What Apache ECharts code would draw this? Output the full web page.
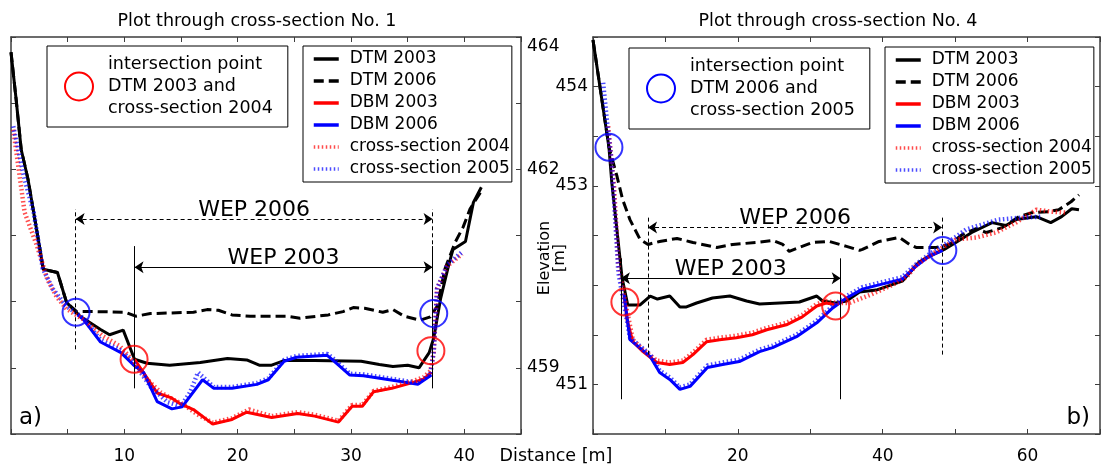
<!DOCTYPE html>
<html>
<head>
<meta charset="utf-8">
<script src="https://cdn.jsdelivr.net/npm/echarts@6/dist/echarts.min.js"></script>
<style>
html,body{margin:0;padding:0;background:#fff;}
#c{width:1103px;height:467px;}
</style>
</head>
<body>
<div id="c"></div>
<script>
// ---------- tick labels ----------
const L_xTickLabels = [10, 20, 30, 40];
const L_yTickLabels = [464, 462, 459];
const R_xTickLabels = [20, 40, 60];
const R_yTickLabels = [454, 453, 451];

// ---------- left panel: cross-section No. 1 ----------
const L_DTM2003 = [[0,463.77],[0.45,463.06],[0.9,462.3],[1.5,461.85],[2.3,461.05],[2.85,460.49],[4.1,460.44],[4.9,459.99],[6.1,459.78],[7.9,459.58],[8.7,459.5],[9.9,459.57],[10.9,459.13],[12.0,459.07],[14.0,459.04],[16.7,459.08],[19.1,459.14],[20.8,459.12],[21.9,459.04],[23.0,459.04],[24.1,459.11],[26.8,459.11],[30.9,459.1],[32.5,459.05],[33.7,459.02],[35.0,459.04],[36.0,459.0],[36.9,459.23],[37.3,459.45],[37.9,460.04],[38.6,460.54],[39.0,460.79],[40.1,460.91],[40.8,461.5],[41.5,461.73]];
const L_DTM2006 = [[0,463.77],[0.45,463.06],[0.9,462.3],[1.5,461.85],[2.3,461.05],[2.85,460.49],[4.1,460.44],[4.9,459.99],[5.8,459.85],[7.5,459.85],[10.1,459.84],[11.0,459.78],[12.3,459.82],[16.1,459.84],[17.3,459.88],[18.3,459.87],[19.5,459.8],[21.1,459.78],[24.3,459.78],[25.5,459.75],[28.0,459.8],[29.3,459.85],[30.2,459.91],[31.2,459.9],[32.8,459.84],[33.7,459.88],[34.7,459.78],[36.1,459.72],[37.0,459.77],[37.6,459.93],[38.3,460.5],[39.2,460.9],[39.9,461.13],[40.5,461.4],[41.6,461.7]];
const L_DBM2003 = [[10.9,459.13],[12.0,458.85],[12.9,458.62],[14.1,458.55],[14.9,458.46],[16.1,458.37],[17.8,458.15],[19.5,458.22],[20.8,458.33],[23.0,458.25],[25.3,458.31],[26.8,458.27],[28.9,458.18],[30.1,458.42],[31.0,458.42],[32.0,458.64],[33.6,458.69],[35.5,458.78],[36.4,458.83],[37.1,458.93]];
const L_DBM2006 = [[5.9,459.8],[6.4,459.73],[7.9,459.39],[9.7,459.23],[10.9,459.03],[11.7,458.93],[12.9,458.49],[14.2,458.38],[15.1,458.41],[16.9,458.82],[17.9,458.69],[19.5,458.69],[21.7,458.75],[22.7,458.82],[24.1,459.1],[25.2,459.16],[27.9,459.19],[28.3,459.13],[29.9,458.89],[31.1,458.88],[34.1,458.8],[35.9,458.75],[37.1,458.89]];
const L_CS2004 = [[0.2,462.6],[1.2,461.35],[2.3,460.84],[3.2,460.34],[4.0,460.08],[4.9,459.89],[6.4,459.73],[8.1,459.48],[9.6,459.33],[10.8,459.1],[12.0,458.83],[13.2,458.63],[14.3,458.52],[15.2,458.45],[16.4,458.3],[17.8,458.17],[19.5,458.24],[21.0,458.37],[23.0,458.27],[25.3,458.33],[26.8,458.29],[28.9,458.2],[30.1,458.44],[31.0,458.44],[32.0,458.65],[33.6,458.71],[35.5,458.8],[36.4,458.86],[37.0,458.95],[37.3,459.23],[37.6,460.2],[38.5,460.54],[39.8,460.72]];
const L_CS2005 = [[0.2,462.65],[1.2,461.85],[2.0,461.35],[2.8,460.5],[3.7,460.19],[4.9,459.93],[6.4,459.75],[7.9,459.42],[9.7,459.26],[10.9,459.06],[12.3,458.72],[13.8,458.48],[15.0,458.42],[15.8,458.63],[16.5,458.93],[17.9,458.71],[19.5,458.71],[21.7,458.77],[22.7,458.84],[24.1,459.12],[25.2,459.18],[27.9,459.21],[28.3,459.16],[29.9,458.91],[31.1,458.9],[34.1,458.82],[35.9,458.77],[37.0,458.9],[37.3,459.25],[37.6,460.2],[38.5,460.56],[39.8,460.75]];
const L_circlesRed = [[10.86,459.13],[37.05,459.26]];
const L_circlesBlue = [[5.74,459.84],[37.3,459.82]];
const L_WEP2003_x = [10.9, 37.2];
const L_WEP2003_y = [458.69, 460.84, 460.52];   // line bottom, line top, arrow level
const L_WEP2006_x = [5.7, 37.2];
const L_WEP2006_y = [459.28, 461.4, 461.25];

// ---------- right panel: cross-section No. 4 ----------
const R_DTM2003 = [[0,454.47],[2.2,453.39],[2.6,453.03],[3.3,452.56],[4.0,452.08],[4.8,451.8],[6.5,451.8],[7.9,451.89],[8.9,451.86],[10.6,451.89],[12.0,451.78],[12.9,451.78],[14.3,451.82],[16.5,451.87],[18.9,451.89],[21.2,451.84],[23.0,451.81],[25.8,451.82],[28.5,451.83],[30.9,451.89],[31.7,451.84],[33.5,451.82],[35.0,451.84],[36.8,451.93],[39.1,451.95],[42.7,452.04],[45.0,452.23],[46.4,452.29],[48.5,452.36],[50.1,452.43],[52.3,452.53],[55.1,452.63],[57.0,452.6],[58.4,452.66],[61.2,452.69],[63.2,452.63],[64.7,452.69],[66.1,452.77],[67.1,452.76]];
const R_DTM2006 = [[0,454.47],[2.2,453.39],[3.3,453.1],[4.1,452.86],[5.1,452.66],[6.5,452.46],[7.6,452.41],[9.2,452.44],[11.6,452.47],[13.8,452.43],[17.1,452.38],[19.3,452.41],[22.6,452.43],[24.8,452.45],[26.2,452.41],[27.1,452.34],[28.5,452.38],[30.3,452.43],[32.6,452.44],[35.0,452.39],[36.8,452.35],[37.2,452.36],[39.5,452.44],[42.3,452.48],[43.7,452.41],[44.6,452.38],[47.4,452.38],[49.2,452.41],[51.0,452.51],[52.9,452.57],[54.3,452.53],[56.5,452.58],[58.8,452.69],[60.6,452.73],[62.9,452.74],[64.3,452.76],[66.0,452.84],[67.1,452.91]];
const R_DBM2003 = [[4.3,451.9],[4.7,451.65],[5.5,451.43],[6.9,451.33],[8.8,451.22],[10.6,451.2],[12.4,451.22],[13.8,451.3],[15.7,451.43],[17.5,451.45],[19.8,451.47],[22.0,451.5],[24.0,451.55],[26.7,451.6],[28.9,451.68],[30.9,451.79],[32.2,451.82],[33.7,451.8]];
const R_DBM2006 = [[4.3,451.9],[5.1,451.45],[7.9,451.28],[9.2,451.12],[10.6,451.05],[12.0,450.95],[13.4,450.98],[15.8,451.17],[17.9,451.2],[20.2,451.23],[23.0,451.33],[24.8,451.37],[28.1,451.48],[30.9,451.62],[33.1,451.77],[35.0,451.87],[37.2,451.96],[39.9,452.01],[42.7,452.06],[44.6,452.19],[46.4,452.29],[48.3,452.35]];
const R_CS2004 = [[2.1,453.6],[2.9,453.0],[3.5,452.23],[4.1,451.96],[5.5,451.45],[6.9,451.35],[8.8,451.24],[10.6,451.22],[12.4,451.24],[13.8,451.32],[15.7,451.45],[17.5,451.47],[19.8,451.49],[22.0,451.52],[24.0,451.57],[26.7,451.62],[28.9,451.7],[30.9,451.81],[32.2,451.84],[33.7,451.82],[35.4,451.82],[38.2,451.9],[41.3,452.0],[43.3,452.08],[44.6,452.2],[47.4,452.34],[50.1,452.46],[52.9,452.48],[55.6,452.53],[58.4,452.63],[61.2,452.76],[63.4,452.74],[65.4,452.73]];
const R_CS2005 = [[1.4,454.04],[2.0,453.6],[2.6,453.23],[3.5,452.13],[4.3,451.8],[5.1,451.47],[7.9,451.3],[9.2,451.14],[10.6,451.07],[12.0,450.97],[13.4,451.0],[15.8,451.19],[17.9,451.22],[20.2,451.25],[23.0,451.35],[24.8,451.39],[28.1,451.5],[30.9,451.64],[33.1,451.79],[35.0,451.89],[37.2,451.98],[39.9,452.03],[42.7,452.08],[44.6,452.21],[46.4,452.31],[49.2,452.44],[51.5,452.56],[53.7,452.61],[56.0,452.66],[59.2,452.68],[62.0,452.69]];
const R_circlesRed = [[4.4,451.83],[33.5,451.79]];
const R_circlesBlue = [[2.2,453.39],[48.3,452.35]];
const R_WEP2003_x = [3.85, 34.2];
const R_WEP2003_y = [450.85, 452.27, 452.07];
const R_WEP2006_x = [7.6, 48.2];
const R_WEP2006_y = [451.3, 452.68, 452.58];

const SERIES_NAMES = ['DTM 2003','DTM 2006','DBM 2003','DBM 2006','cross-section 2004','cross-section 2005'];
const NAME_RED = 'intersection point\nDTM 2003 and\ncross-section 2004';
const NAME_BLUE = 'intersection point\nDTM 2006 and\ncross-section 2005';

// ---------- build ----------
const FONT = 'DejaVu Sans';
const FRAME = '#3c3c3c';
const chart = echarts.init(document.getElementById('c'), null, {renderer: 'canvas'});

function axis(extra) {
  return Object.assign({
    type: 'value',
    axisLine: {show: true, onZero: false, lineStyle: {color: FRAME, width: 1.5}},
    axisTick: {show: true, inside: true, length: 5, lineStyle: {color: FRAME, width: 1}},
    splitLine: {show: false},
    axisLabel: {show: false}
  }, extra);
}
function labelsFrom(list, margin, shiftMax) {
  return {show: true, margin: margin, color: '#000', fontSize: 17, fontFamily: FONT,
    showMinLabel: true, showMaxLabel: true,
    rich: {low: {fontSize: 17, fontFamily: FONT, color: '#000', padding: [20, 0, 0, 0]}},
    formatter: v => {
      if (list.indexOf(+v) < 0) return '';
      if (shiftMax !== undefined && +v === shiftMax) return '{low|' + v + '}';
      return String(v);
    }};
}

const styles = [
  {color: '#000', width: 3},
  {color: '#000', width: 3, type: [10, 5]},
  {color: '#f00', width: 3},
  {color: '#00f', width: 3},
  {color: '#f00', width: 4.5, type: [1.5, 2.5], opacity: 0.7},
  {color: '#00f', width: 4.5, type: [1.5, 2.5], opacity: 0.7}
];

function lineSeries(name, data, xi, yi, st) {
  return {type: 'line', name: name, data: data, xAxisIndex: xi, yAxisIndex: yi,
    symbol: 'none', showSymbol: false, silent: true, z: 3,
    lineStyle: st, itemStyle: {color: st.color}};
}
function circleSeries(name, data, xi, yi, color) {
  return {type: 'scatter', name: name, data: data, xAxisIndex: xi, yAxisIndex: yi,
    symbol: 'circle', symbolSize: 27, silent: true, z: 5,
    itemStyle: {color: 'rgba(0,0,0,0)', borderColor: color, borderWidth: 2}};
}
function wepSeries(xi, yi, w03x, w03y, w06x, w06y) {
  const verticals = {
    type: 'lines', coordinateSystem: 'cartesian2d', xAxisIndex: xi, yAxisIndex: yi,
    silent: true, z: 4, symbol: 'none',
    lineStyle: {color: '#000', width: 1, opacity: 1},
    data: [
      {coords: [[w03x[0], w03y[0]], [w03x[0], w03y[1]]]},
      {coords: [[w03x[1], w03y[0]], [w03x[1], w03y[1]]]},
      {coords: [[w06x[0], w06y[0]], [w06x[0], w06y[1]]], lineStyle: {type: [4, 3]}},
      {coords: [[w06x[1], w06y[0]], [w06x[1], w06y[1]]], lineStyle: {type: [4, 3]}}
    ]
  };
  const arrows = {
    type: 'lines', coordinateSystem: 'cartesian2d', xAxisIndex: xi, yAxisIndex: yi,
    silent: true, z: 4, symbol: ['arrow', 'arrow'], symbolSize: 9,
    lineStyle: {color: '#000', width: 1, opacity: 1},
    label: {show: true, position: 'middle', distance: -2, formatter: '{b}',
      fontSize: 22, fontFamily: FONT, color: '#000'},
    data: [
      {name: 'WEP 2003', coords: [[w03x[0], w03y[2]], [w03x[1], w03y[2]]]},
      {name: 'WEP 2006', coords: [[w06x[0], w06y[2]], [w06x[1], w06y[2]]], lineStyle: {type: [4, 3]}}
    ]
  };
  return [verticals, arrows];
}

const L_data = [L_DTM2003, L_DTM2006, L_DBM2003, L_DBM2006, L_CS2004, L_CS2005];
const R_data = [R_DTM2003, R_DTM2006, R_DBM2003, R_DBM2006, R_CS2004, R_CS2005];

const series = [];
series.push(...wepSeries(0, 0, L_WEP2003_x, L_WEP2003_y, L_WEP2006_x, L_WEP2006_y));
series.push(...wepSeries(2, 2, R_WEP2003_x, R_WEP2003_y, R_WEP2006_x, R_WEP2006_y));
SERIES_NAMES.forEach((n, i) => series.push(lineSeries(n, L_data[i], 0, 0, styles[i])));
SERIES_NAMES.forEach((n, i) => series.push(lineSeries(n, R_data[i], 2, 2, styles[i])));
series.push(circleSeries(NAME_RED, L_circlesRed, 0, 0, '#f00'));
series.push(circleSeries(NAME_BLUE, L_circlesBlue, 0, 0, '#00f'));
series.push(circleSeries(NAME_RED, R_circlesRed, 2, 2, '#f00'));
series.push(circleSeries(NAME_BLUE, R_circlesBlue, 2, 2, '#00f'));

function linesLegend(left, top) {
  return {
    show: true, orient: 'vertical', left: left, top: top, selectedMode: false,
    data: SERIES_NAMES.map((n, i) => ({name: n})),
    itemWidth: 25, itemHeight: 14, itemGap: 5,
    padding: [4.5, 2, 4.5, 9],
    itemStyle: {opacity: 0},
    lineStyle: {width: 3.5},
    borderColor: '#000', borderWidth: 1, borderRadius: 0, backgroundColor: '#fff',
    textStyle: {fontFamily: FONT, fontSize: 17, color: '#000', lineHeight: 14, padding: [0, 0, 0, 6]}
  };
}
function circleLegend(name, left, top, color) {
  return {
    show: true, orient: 'vertical', left: left, top: top, selectedMode: false,
    data: [{name: name, icon: 'circle', itemStyle: {color: 'rgba(0,0,0,0)', borderColor: color, borderWidth: 2, opacity: 1}}],
    itemWidth: 28, itemHeight: 28, itemGap: 0,
    padding: [7.5, 15, 7.5, 17],
    borderColor: '#000', borderWidth: 1, borderRadius: 0, backgroundColor: '#fff',
    textStyle: {fontFamily: FONT, fontSize: 17.5, color: '#000', lineHeight: 22, padding: [0, 0, 0, 10]}
  };
}

const txt = (x, y, s, size, extra) => Object.assign({
  type: 'text', x: x, y: y, silent: true,
  style: {text: s, fontFamily: FONT, fontSize: size, fill: '#000', align: 'center', verticalAlign: 'middle'}
}, extra || {});

const option = {
  animation: false,
  backgroundColor: '#fff',
  grid: [
    {left: 11, top: 37, width: 510, height: 397, containLabel: false},
    {left: 593, top: 37, width: 508, height: 397, containLabel: false}
  ],
  xAxis: [
    axis({gridIndex: 0, position: 'bottom', min: 0, max: 45, interval: 5, axisLabel: labelsFrom(L_xTickLabels, 14)}),
    axis({gridIndex: 0, position: 'top', min: 0, max: 45, interval: 5}),
    axis({gridIndex: 1, position: 'bottom', min: 0, max: 70, interval: 10, axisLabel: labelsFrom(R_xTickLabels, 14)}),
    axis({gridIndex: 1, position: 'top', min: 0, max: 70, interval: 10})
  ],
  yAxis: [
    axis({gridIndex: 0, position: 'right', min: 458, max: 464, interval: 1, axisLabel: labelsFrom(L_yTickLabels, 6, 464)}),
    axis({gridIndex: 0, position: 'left', min: 458, max: 464, interval: 1}),
    axis({gridIndex: 1, position: 'left', min: 450.5, max: 454.5, interval: 0.5, axisLabel: labelsFrom(R_yTickLabels, 5)}),
    axis({gridIndex: 1, position: 'right', min: 450.5, max: 454.5, interval: 0.5})
  ],
  legend: [
    circleLegend(NAME_RED, 47, 46, '#f00'),
    linesLegend(303, 46),
    circleLegend(NAME_BLUE, 629, 48, '#00f'),
    linesLegend(885, 47)
  ],
  series: series,
  graphic: [
    txt(257, 21, 'Plot through cross-section No. 1', 17.5),
    txt(838, 21, 'Plot through cross-section No. 4', 17.5),
    txt(556, 456, 'Distance [m]', 17.5),
    txt(552, 258, 'Elevation\n[m]', 16, {rotation: Math.PI / 2, style: {text: 'Elevation\n[m]', fontFamily: FONT, fontSize: 16, lineHeight: 15, fill: '#000', align: 'center', verticalAlign: 'middle'}}),
    txt(19, 418, 'a)', 23, {style: {text: 'a)', fontFamily: FONT, fontSize: 23, fill: '#000', align: 'left', verticalAlign: 'middle'}}),
    txt(1090, 418, 'b)', 23, {style: {text: 'b)', fontFamily: FONT, fontSize: 23, fill: '#000', align: 'right', verticalAlign: 'middle'}})
  ]
};
chart.setOption(option);
</script>
</body>
</html>
